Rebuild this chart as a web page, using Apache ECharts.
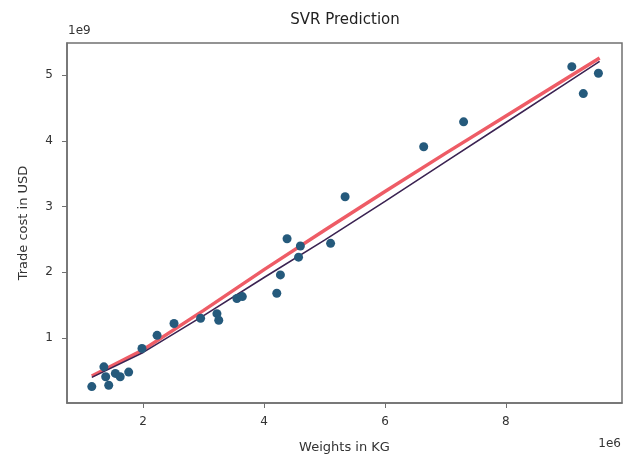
<!DOCTYPE html>
<html><head><meta charset="utf-8">
<script src="https://cdn.jsdelivr.net/npm/echarts@6/dist/echarts.min.js"></script>
<style>html,body{margin:0;padding:0;background:#fff}#c{width:625px;height:462px}</style>
</head><body><div id="c"></div>
<script>
// Scatter data (weights in kg, trade cost in USD)
const weightsKg = [1.15e6,1.35e6,1.38e6,1.43e6,1.54e6,1.62e6,1.76e6,1.98e6,2.23e6,2.51e6,2.95e6,3.22e6,3.25e6,3.55e6,3.64e6,4.21e6,4.27e6,4.38e6,4.57e6,4.60e6,5.10e6,5.34e6,6.64e6,7.30e6,9.09e6,9.28e6,9.53e6];
const tradeCostUsd = [0.26e9,0.56e9,0.41e9,0.28e9,0.46e9,0.41e9,0.48e9,0.84e9,1.04e9,1.22e9,1.30e9,1.37e9,1.27e9,1.60e9,1.63e9,1.68e9,1.96e9,2.51e9,2.23e9,2.40e9,2.44e9,3.15e9,3.91e9,4.29e9,5.13e9,4.72e9,5.03e9];
// Prediction lines
const lineX = [1.15e6,2e6,3e6,4e6,5e6,6e6,7e6,8e6,9e6,9.55e6];
const svrPred = [0.42e9,0.82e9,1.42e9,2.04e9,2.64e9,3.23e9,3.81e9,4.38e9,4.95e9,5.26e9];
const fitPred = [0.40e9,0.78e9,1.34e9,1.92e9,2.49e9,3.08e9,3.68e9,4.28e9,4.88e9,5.21e9];
const xTicks = [2e6,4e6,6e6,8e6];
const yTicks = [1e9,2e9,3e9,4e9,5e9];

const chart = echarts.init(document.getElementById('c'), null, {renderer:'canvas'});
const font = 'DejaVu Sans';
chart.setOption({
  animation:false,
  backgroundColor:'#fff',
  title:{text:'SVR Prediction', left:340, top:8, textAlign:'center',
    textStyle:{fontFamily:font, fontSize:15, fontWeight:'normal', color:'#222'}},
  grid:{left:67, right:3, top:43, bottom:59, show:true, borderColor:'#707070', borderWidth:1.5, backgroundColor:'transparent'},
  xAxis:{type:'value', min:0.74e6, max:9.92e6,
    name:'Weights in KG', nameLocation:'middle', nameGap:38,
    nameTextStyle:{fontFamily:font, fontSize:13, color:'#333'},
    axisLine:{show:true, lineStyle:{color:'#707070', width:1.5}},
    axisTick:{show:true, customValues:xTicks, length:5, lineStyle:{color:'#707070'}},
    axisLabel:{customValues:xTicks, fontFamily:font, fontSize:12, color:'#333', margin:13,
      formatter:v=>String(Math.round(v/1e6))},
    splitLine:{show:false}},
  yAxis:{type:'value', min:0.01e9, max:5.49e9,
    name:'Trade cost in USD', nameLocation:'middle', nameGap:37, nameRotate:90,
    nameTextStyle:{fontFamily:font, fontSize:13, color:'#333'},
    axisLine:{show:true, lineStyle:{color:'#707070', width:1.5}},
    axisTick:{show:true, customValues:yTicks, length:5, lineStyle:{color:'#707070'}},
    axisLabel:{customValues:yTicks, fontFamily:font, fontSize:12, color:'#333', margin:14,
      formatter:v=>String(Math.round(v/1e9))},
    splitLine:{show:false}},
  graphic:[
    {type:'text', left:68, top:25, style:{text:'1e9', font:'12px DejaVu Sans', fill:'#333'}},
    {type:'text', right:4, top:438, style:{text:'1e6', font:'12px DejaVu Sans', fill:'#333'}}
  ],
  series:[
    {type:'line', data:lineX.map((x,i)=>[x,svrPred[i]]), showSymbol:false,
      lineStyle:{color:'#ec4a55', width:3.5, opacity:0.9}, z:2},
    {type:'line', data:lineX.map((x,i)=>[x,fitPred[i]]), showSymbol:false,
      lineStyle:{color:'#3b2352', width:1.6}, z:3},
    {type:'scatter', data:weightsKg.map((x,i)=>[x,tradeCostUsd[i]]), symbolSize:9,
      itemStyle:{color:'#255a7c', opacity:1}, z:4}
  ]
});
</script>
</body></html>
